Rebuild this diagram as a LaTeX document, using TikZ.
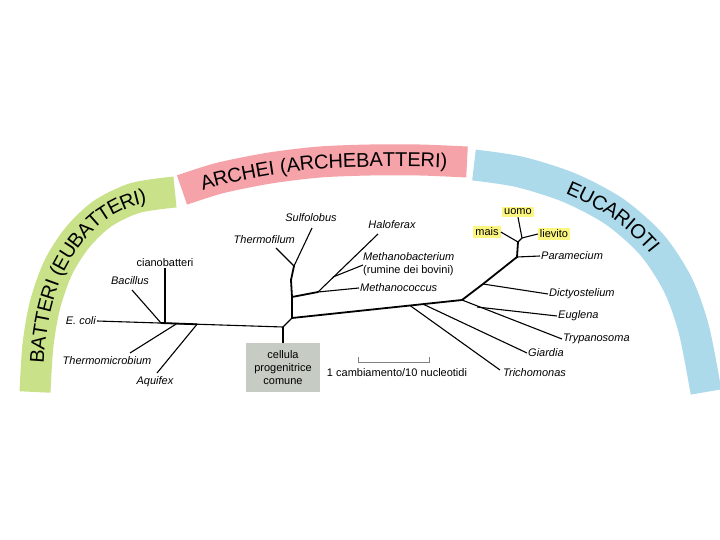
\documentclass[tikz,border=0pt]{standalone}
\usepackage{fontspec}
\setmainfont{Liberation Sans}
\usetikzlibrary{decorations.text}

\definecolor{verdeband}{RGB}{201,225,137}
\definecolor{rosaband}{RGB}{245,163,168}
\definecolor{bluband}{RGB}{172,218,234}
\definecolor{giallo}{RGB}{251,246,128}
\definecolor{grigiocell}{RGB}{198,204,195}

\newcommand{\bandfont}{\fontsize{20}{20}\selectfont}

\tikzset{
  band/.style={line width=31pt},
  spec/.style={font=\fontsize{11}{13}\selectfont\itshape, inner sep=1pt},
  plain/.style={font=\fontsize{11}{13}\selectfont, inner sep=1pt},
  hl/.style={plain, fill=giallo, inner sep=2pt},
  twig/.style={line width=1.1pt},
  stem/.style={line width=1.8pt},
  bandtext/.style={decorate, decoration={text along path, text align=center, raise=-7pt, text={|\bandfont|#1}}}
}

\begin{document}
\begin{tikzpicture}[x=1pt,y=-1pt]
\useasboundingbox (0,0) rectangle (720,540);

% bande dei tre domini
\draw[band,verdeband] plot[smooth] coordinates {(35,392) (38,345) (45,305) (58,268) (77,238) (102,214) (135,198) (175,192)};
\draw[band,rosaband] plot[smooth] coordinates {(182,190) (220,178) (270,168) (320,162) (370,160) (420,160) (467,162)};
\draw[band,bluband] plot[smooth] coordinates {(474,165) (520,172) (570,188) (615,212) (652,245) (678,285) (694,330) (706,392)};
\path[bandtext={BATTERI (EUBATTERI)}] plot[smooth] coordinates {(35,392) (38,345) (45,305) (58,268) (77,238) (102,214) (135,198) (175,192)};
\path[bandtext={ARCHEI (ARCHEBATTERI)}] plot[smooth] coordinates {(182,190) (220,178) (270,168) (320,162) (370,160) (420,160) (467,162)};
\path[bandtext={EUCARIOTI}, decoration={text align={left, left indent=97pt}}] plot[smooth] coordinates {(474,165) (520,172) (570,188) (615,212) (652,245) (678,285) (694,330) (706,392)};

% radice
\coordinate (root) at (283,327);
\coordinate (base) at (292,318);
\node[plain,fill=grigiocell,minimum width=74pt,minimum height=49pt,align=center] (cell) at (283,367.5) {cellula\\progenitrice\\comune};
\draw[twig] (root) -- (cell.north);
\draw[twig] (root) -- (base);

% batteri
\node[spec,anchor=east] (ecoli) at (97,321) {E. coli};
\coordinate (jbac) at (161,323);
\coordinate (jcia) at (165,323);
\coordinate (jthm) at (177,323.5);
\coordinate (jaqu) at (197,324.3);
\draw[twig] (ecoli.east) -- (root);
\draw[stem] (jbac) -- (jaqu);
\node[plain,anchor=south] (ciano) at (165,268) {cianobatteri};
\draw[twig] (jcia) -- (ciano.south);
\node[spec] (bacil) at (130,281) {Bacillus};
\coordinate (tbac) at (132,290);
\draw[twig] (jbac) -- (tbac);
\node[spec] (thmic) at (107,361) {Thermomicrobium};
\coordinate (tthm) at (130,353);
\draw[twig] (jthm) -- (tthm);
\node[spec] (aquif) at (155,382) {Aquifex};
\coordinate (taqu) at (157,373);
\draw[twig] (jaqu) -- (taqu);

% archei
\coordinate (amet) at (292,297);
\coordinate (ast) at (291,280);
\coordinate (asul) at (294,266);
\coordinate (mjn) at (318,292);
\coordinate (mbj) at (333,277);
\draw[stem] (base) -- (amet) -- (ast) -- (asul);
\node[spec,anchor=east] (thfil) at (296,240) {Thermofilum};
\coordinate (tthf) at (276,248);
\draw[twig] (asul) -- (tthf);
\node[spec] (sulfo) at (311,218) {Sulfolobus};
\coordinate (tsul) at (312,228);
\draw[twig] (asul) -- (tsul);
\draw[stem] (amet) -- (mjn);
\node[spec,anchor=west] (mcocc) at (359,288) {Methanococcus};
\draw[twig] (mjn) -- (mcocc.west);
\node[spec] (halof) at (392,225) {Haloferax};
\coordinate (thal) at (378,234);
\draw[twig] (mjn) -- (thal);
\node[plain,anchor=west,align=left] (mbact) at (362,264) {\textit{Methanobacterium}\\(rumine dei bovini)};
\coordinate (tmbt) at (363,265);
\draw[twig] (mbj) -- (tmbt);

% eucarioti
\coordinate (hub) at (462,300);
\coordinate (jtri) at (410,305.5);
\coordinate (jgia) at (423,304.1);
\draw[stem] (base) -- (hub);
\node[spec,anchor=west] (trich) at (502,373) {Trichomonas};
\coordinate (ttri) at (500,370);
\draw[twig] (jtri) -- (ttri);
\node[spec,anchor=west] (giard) at (527,353) {Giardia};
\draw[twig] (jgia) -- (giard.west);
\node[spec,anchor=west] (trypa) at (562,339) {Trypanosoma};
\draw[twig] (hub) -- (trypa.west);
\coordinate (jeug) at (477,307);
\node[spec,anchor=west] (eugle) at (557,316) {Euglena};
\draw[twig] (jeug) -- (eugle.west);
\coordinate (jdic) at (483,284);
\coordinate (jpar) at (517,257);
\coordinate (jmai) at (518,242);
\coordinate (jhum) at (522,238);
\draw[stem] (hub) -- (jdic) -- (jpar) -- (jmai);
\draw[twig] (jmai) -- (jhum);
\node[spec,anchor=west] (dicty) at (548,294) {Dictyostelium};
\draw[twig] (jdic) -- (dicty.west);
\node[spec,anchor=west] (param) at (540,256) {Paramecium};
\draw[twig] (jpar) -- (param.west);
\node[hl] (mais) at (487,232) {mais};
\draw[twig] (jmai) -- (mais.east);
\node[hl] (uomo) at (518,212) {uomo};
\draw[twig] (jhum) -- (uomo.south);
\node[hl] (liev) at (554,234) {lievito};
\draw[twig] (jhum) -- (liev.west);

% scala
\coordinate (sa) at (358,362);
\coordinate (sb) at (429,362);
\draw[gray,line width=0.7pt] (sa) ++(0,-5) -- (sa) -- (sb) -- ++(0,-5);
\node[plain] (scala) at (397,373) {1 cambiamento/10 nucleotidi};
\end{tikzpicture}
\end{document}
